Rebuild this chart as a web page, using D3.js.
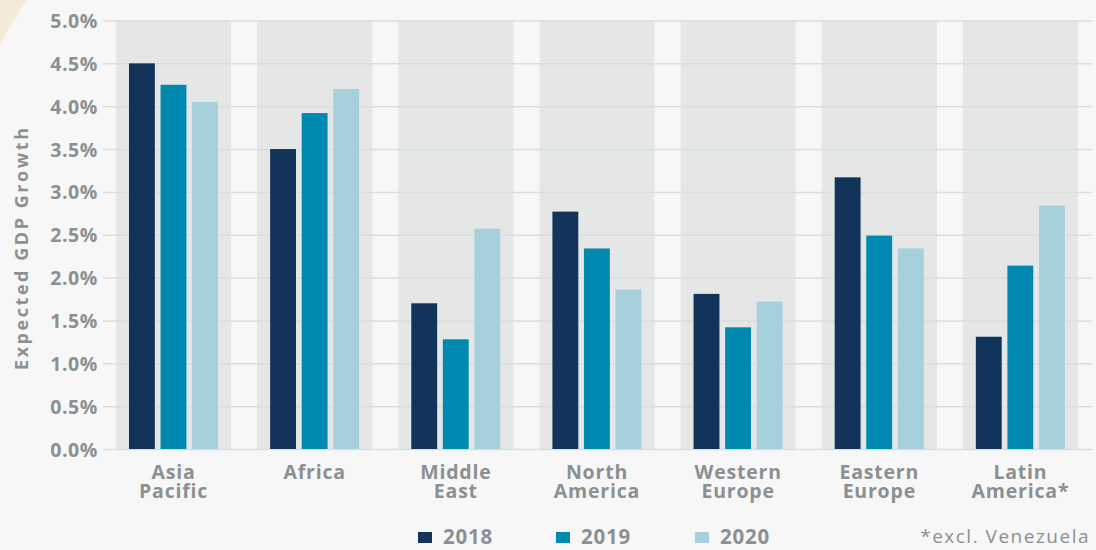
<!DOCTYPE html>
<html>
<head>
<meta charset="utf-8">
<script src="https://cdn.jsdelivr.net/npm/d3@7"></script>
<style>
  html, body { margin: 0; padding: 0; background: #f7f7f7; }
  svg { display: block; }
  text { font-family: "Open Sans", sans-serif; fill: #8b9092; }
</style>
</head>
<body>
<svg id="chart" width="1096" height="550"></svg>
<script>
// Regions and expected GDP growth (%) per year
const regions = [
  ["Asia", "Pacific"],
  ["Africa"],
  ["Middle", "East"],
  ["North", "America"],
  ["Western", "Europe"],
  ["Eastern", "Europe"],
  ["Latin", "America*"]
];
const years = ["2018", "2019", "2020"];
const growth2018 = [4.50, 3.50, 1.70, 2.77, 1.81, 3.17, 1.31];
const growth2019 = [4.25, 3.92, 1.28, 2.34, 1.42, 2.49, 2.14];
const growth2020 = [4.05, 4.20, 2.57, 1.86, 1.72, 2.34, 2.84];
const yTicks = [0, 0.5, 1.0, 1.5, 2.0, 2.5, 3.0, 3.5, 4.0, 4.5, 5.0];
const yearColors = ["#12345a", "#0089b0", "#a6d0dc"];
const footnote = "*excl. Venezuela";
const yTitle = "Expected GDP Growth";

const series = [growth2018, growth2019, growth2020];
const regionKeys = regions.map(r => r.join(" "));

const svg = d3.select("#chart");

// soft beige corner accent
svg.append("path")
  .attr("d", "M0,0 L27,0 Q12,20 0,46 Z")
  .attr("fill", "#f4ecd9");

const x = d3.scaleBand()
  .domain(regionKeys)
  .range([103, 1091])
  .paddingInner(0.184)
  .paddingOuter(0.092);

const xYear = d3.scaleBand()
  .domain(years)
  .range([13, 102])
  .paddingInner(0.18);

const y = d3.scaleLinear()
  .domain([0, 5])
  .range([449, 20.5]);

// shaded category bands
svg.append("g").selectAll("rect")
  .data(regionKeys)
  .join("rect")
  .attr("x", d => x(d))
  .attr("y", y(5))
  .attr("width", x.bandwidth())
  .attr("height", y(0) - y(5))
  .attr("fill", "#e5e7e7");

// gridlines and tick labels
const yAxis = d3.axisLeft(y)
  .tickValues(yTicks)
  .tickFormat(d => d3.format(".1f")(d) + "%")
  .tickSize(-(1092 - 103))
  .tickPadding(5);

const gy = svg.append("g")
  .attr("transform", "translate(103,0)")
  .call(yAxis);
gy.select(".domain").remove();
gy.selectAll(".tick line")
  .attr("stroke", "#dcdddd")
  .attr("stroke-width", 1.5);
gy.selectAll(".tick text")
  .attr("font-size", 19.5)
  .attr("letter-spacing", 0.6)
  .attr("fill", "#8b9092")
  .attr("font-family", "'Open Sans', sans-serif")
  .style("font-weight", 700)
  .attr("dy", "0.36em");

// bars
const groups = svg.append("g").selectAll("g")
  .data(regionKeys)
  .join("g")
  .attr("transform", d => `translate(${x(d)},0)`);

groups.selectAll("rect")
  .data((d, i) => years.map((yr, j) => ({ yr, v: series[j][i], c: yearColors[j] })))
  .join("rect")
  .attr("x", d => xYear(d.yr))
  .attr("y", d => y(d.v))
  .attr("width", xYear.bandwidth())
  .attr("height", d => y(0) - y(d.v))
  .attr("fill", d => d.c);

// category labels, one text per line
const xl = svg.append("g").selectAll("g")
  .data(regions)
  .join("g")
  .attr("transform", (d, i) => `translate(${x(regionKeys[i]) + x.bandwidth() / 2},479)`);
xl.selectAll("text")
  .data(d => d)
  .join("text")
  .attr("x", 0)
  .attr("y", (d, i) => i * 19)
  .attr("text-anchor", "middle")
  .attr("font-size", 19.5)
  .attr("letter-spacing", 0.8)
  .style("font-weight", 700)
  .text(d => d);

// y-axis title
svg.append("text")
  .attr("transform", "translate(28,249) rotate(-90)")
  .attr("text-anchor", "middle")
  .attr("font-size", 18)
  .attr("textLength", 242)
  .attr("lengthAdjust", "spacing")
  .style("font-weight", 700)
  .text(yTitle);

// legend
const legendX = [418, 556, 695];
const lg = svg.append("g").selectAll("g")
  .data(years)
  .join("g")
  .attr("transform", (d, i) => `translate(${legendX[i]},0)`);
lg.append("rect")
  .attr("x", 0)
  .attr("y", 532)
  .attr("width", 14)
  .attr("height", 11)
  .attr("fill", (d, i) => yearColors[i]);
lg.append("text")
  .attr("x", 25)
  .attr("y", 544)
  .attr("font-size", 20.5)
  .attr("letter-spacing", 0.8)
  .style("font-weight", 700)
  .text(d => d);

// footnote
svg.append("text")
  .attr("x", 1090)
  .attr("y", 543)
  .attr("text-anchor", "end")
  .attr("font-size", 19)
  .attr("letter-spacing", 1.5)
  .style("font-weight", 400)
  .text(footnote);
</script>
</body>
</html>
